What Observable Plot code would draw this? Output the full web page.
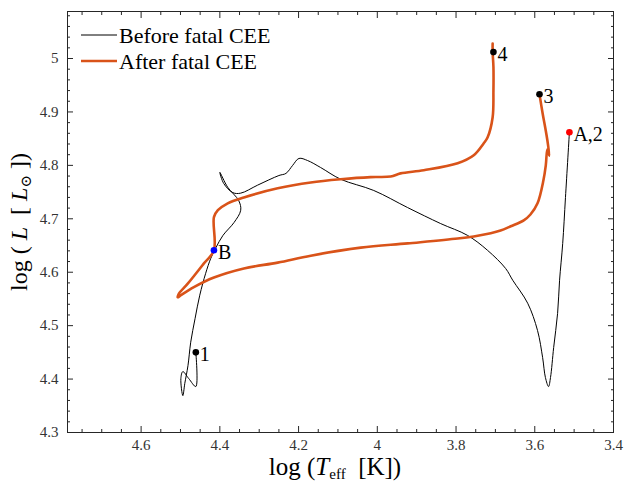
<!DOCTYPE html>
<html>
<head>
<meta charset="utf-8">
<script src="https://cdn.jsdelivr.net/npm/d3@7"></script>
<script src="https://cdn.jsdelivr.net/npm/@observablehq/plot@0.6"></script>
<style>
  html, body { margin: 0; padding: 0; background: #fff; }
  #chart { width: 628px; height: 482px; }
</style>
</head>
<body>
<div id="chart"></div>
<script>
// ---- Data ----
// Track before the fatal common-envelope event: [log Teff, log L]
const beforeTeff = [4.461,4.461,4.479,4.494,4.499,4.494,4.489,4.481,4.474,4.463,4.451,4.436,4.423,4.410,4.392,4.364,4.347,4.352,4.380,4.400,4.390,4.367,4.347,4.304,4.250,4.232,4.215,4.199,4.177,4.144,4.093,4.009,3.923,3.839,3.771,3.720,3.674,3.656,3.618,3.593,3.580,3.573,3.565,3.560,3.552,3.542,3.537,3.529,3.522,3.512];
const beforeL    = [4.450,4.386,4.401,4.414,4.401,4.369,4.392,4.425,4.469,4.513,4.557,4.598,4.626,4.646,4.669,4.693,4.716,4.734,4.759,4.787,4.766,4.749,4.748,4.763,4.781,4.785,4.800,4.813,4.809,4.796,4.774,4.753,4.721,4.691,4.669,4.641,4.607,4.585,4.542,4.491,4.440,4.403,4.386,4.403,4.459,4.523,4.585,4.654,4.740,4.862];

// Track after the fatal common-envelope event
const afterTeff = [3.588,3.580,3.573,3.568,3.563,3.568,3.572,3.578,3.593,3.611,3.628,3.661,3.687,3.712,3.755,3.796,3.923,4.042,4.169,4.253,4.339,4.415,4.466,4.499,4.507,4.504,4.481,4.441,4.415,4.415,4.405,4.380,4.339,4.253,4.169,4.093,4.017,3.966,3.941,3.882,3.796,3.755,3.730,3.720,3.707,3.705,3.705,3.707,3.707];
const afterL    = [4.933,4.897,4.869,4.847,4.818,4.830,4.800,4.772,4.729,4.708,4.697,4.686,4.678,4.673,4.667,4.663,4.654,4.646,4.631,4.618,4.607,4.590,4.572,4.557,4.553,4.560,4.579,4.616,4.641,4.703,4.716,4.729,4.740,4.757,4.768,4.774,4.778,4.779,4.785,4.791,4.804,4.819,4.841,4.852,4.890,4.940,4.984,5.012,5.028];

// Marked points
const pointLabels = ["1", "A,2", "3", "4", "B"];
const pointTeff   = [4.461, 3.512, 3.588, 3.705, 4.415];
const pointL      = [4.450, 4.862, 4.933, 5.012, 4.641];
const pointColors = ["#000000", "#ff0000", "#000000", "#000000", "#0000ff"];

// Axis ticks
const xTicks = [4.6, 4.4, 4.2, 4.0, 3.8, 3.6, 3.4];
const xTickLabels = ["4.6", "4.4", "4.2", "4", "3.8", "3.6", "3.4"];
const xMinorTicks = [4.75,4.7,4.65,4.55,4.5,4.45,4.35,4.3,4.25,4.15,4.1,4.05,3.95,3.9,3.85,3.75,3.7,3.65,3.55,3.5,3.45];
const yTicks = [4.3, 4.4, 4.5, 4.6, 4.7, 4.8, 4.9, 5.0];
const yTickLabels = ["4.3", "4.4", "4.5", "4.6", "4.7", "4.8", "4.9", "5"];
const yMinorTicks = [4.32,4.34,4.36,4.38,4.42,4.44,4.46,4.48,4.52,4.54,4.56,4.58,4.62,4.64,4.66,4.68,4.72,4.74,4.76,4.78,4.82,4.84,4.86,4.88,4.92,4.94,4.96,4.98,5.02,5.04,5.06,5.08];

const seriesNames = ["Before fatal CEE", "After fatal CEE"];
const seriesColors = ["#000000", "#D95319"];

// ---- Build tables ----
const before = beforeTeff.map((t, i) => ({t, L: beforeL[i]}));
const after = afterTeff.map((t, i) => ({t, L: afterL[i]}));
const points = pointLabels.map((label, i) => ({label, t: pointTeff[i], L: pointL[i], color: pointColors[i]}));
const xLab = new Map(xTicks.map((v, i) => [v, xTickLabels[i]]));
const yLab = new Map(yTicks.map((v, i) => [v, yTickLabels[i]]));

const axisColor = "#262626";
const W = 628, H = 482;
const mL = 67, mR = 15, mT = 11, mB = 50;
const MAJ = 6, MIN = 3;

// inward ticks: outward ticks shifted inside the frame by their own length
const inX = (anchor, ticks, len) => Plot.axisX({anchor, ticks, tickSize: len, dy: anchor === "bottom" ? -len : len, text: null, label: null, stroke: axisColor, strokeWidth: 1});
const inY = (anchor, ticks, len) => Plot.axisY({anchor, ticks, tickSize: len, dx: anchor === "left" ? len : -len, text: null, label: null, stroke: axisColor, strokeWidth: 1});

const chart = Plot.plot({
  width: W, height: H,
  marginLeft: mL, marginRight: mR, marginTop: mT, marginBottom: mB,
  style: {fontFamily: "'Liberation Serif', 'DejaVu Serif', serif", background: "#fff", color: axisColor, overflow: "visible"},
  x: {domain: [4.787, 3.4]},
  y: {domain: [4.3, 5.088]},
  marks: [
    Plot.axisX({ticks: xTicks, tickSize: 0, tickPadding: 7, fontSize: 15, tickFormat: d => xLab.get(d), label: null, color: "#333"}),
    Plot.axisY({ticks: yTicks, tickSize: 0, tickPadding: 9, fontSize: 15, tickFormat: d => yLab.get(d), label: null, color: "#333"}),
    inX("bottom", xTicks, MAJ), inX("top", xTicks, MAJ),
    inX("bottom", xMinorTicks, MIN), inX("top", xMinorTicks, MIN),
    inY("left", yTicks, MAJ), inY("right", yTicks, MAJ),
    inY("left", yMinorTicks, MIN), inY("right", yMinorTicks, MIN),
    Plot.frame({stroke: axisColor, strokeWidth: 1}),
    Plot.line(before, {x: "t", y: "L", stroke: seriesColors[0], strokeWidth: 1, curve: "catmull-rom"}),
    Plot.line(after, {x: "t", y: "L", stroke: seriesColors[1], strokeWidth: 2.6, curve: "catmull-rom"}),
    Plot.dot(points, {x: "t", y: "L", r: 3.3, fill: "color", stroke: "none"}),
    Plot.text(points, {x: "t", y: "L", text: "label", textAnchor: "start", dx: 4, dy: 2, fontSize: 20, fill: "#000"})
  ]
});
document.getElementById("chart").appendChild(chart);

// ---- Axis titles & legend (real SVG text) ----
const svg = d3.select(chart);
const serif = "'Liberation Serif', 'DejaVu Serif', serif";
const xtl = svg.append("text").attr("x", 335).attr("y", 475).attr("text-anchor", "middle")
  .attr("font-family", serif).attr("font-size", 25).attr("fill", "#000");
xtl.append("tspan").text("log (");
xtl.append("tspan").attr("font-style", "italic").text("T");
xtl.append("tspan").attr("font-size", 15).attr("dy", 4).text("eff");
xtl.append("tspan").attr("dy", -4).text("  [K])");

const ytl = svg.append("text").attr("transform", `translate(27, 222) rotate(-90)`).attr("text-anchor", "middle")
  .attr("font-family", serif).attr("font-size", 24).attr("fill", "#000");
ytl.append("tspan").text("log (");
ytl.append("tspan").attr("font-style", "italic").text(" L");
ytl.append("tspan").text("  [ ");
ytl.append("tspan").attr("font-style", "italic").text("L");
ytl.append("tspan").attr("font-size", 15).attr("dy", 4).text("⊙");
ytl.append("tspan").attr("dy", -4).text(" ])");

const leg = svg.append("g");
seriesNames.forEach((name, i) => {
  const y = 35 + i * 26;
  leg.append("line").attr("x1", 81).attr("x2", 117).attr("y1", y).attr("y2", y)
    .attr("stroke", seriesColors[i]).attr("stroke-width", i === 0 ? 1 : 2.6);
  leg.append("text").attr("x", 119).attr("y", y + 7.5).attr("text-anchor", "start")
    .attr("font-family", serif).attr("font-size", 22).attr("fill", "#000").text(name);
});
</script>
</body>
</html>
